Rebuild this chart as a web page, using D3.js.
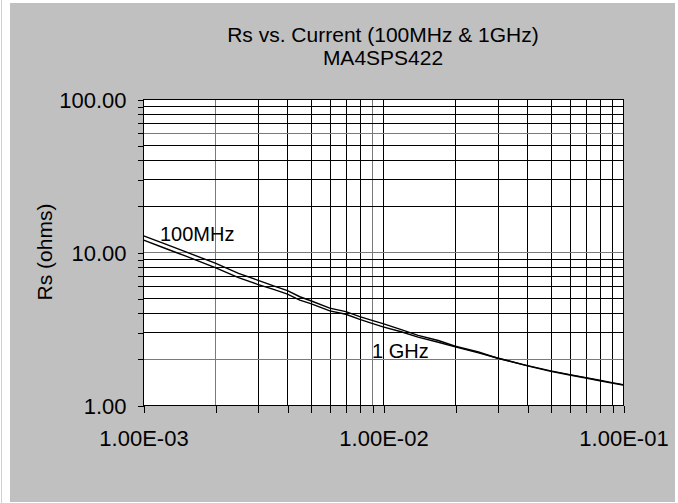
<!DOCTYPE html>
<html>
<head>
<meta charset="utf-8">
<script src="https://cdn.jsdelivr.net/npm/d3@7"></script>
<style>
  body { margin: 0; background: #ffffff; }
  text { font-family: "Liberation Sans", Arial, sans-serif; fill: #000; }
</style>
</head>
<body>
<div id="chart"></div>
<script>
// chart data
let current = [1e-3, 1.25e-3, 1.5e-3, 2e-3, 2.5e-3, 3e-3, 3.5e-3, 4e-3, 4.5e-3, 5e-3,
    6e-3, 7e-3, 8e-3, 9e-3, 1e-2, 1.2e-2, 1.4e-2, 1.7e-2, 2e-2, 2.5e-2,
    3e-2, 4e-2, 5e-2, 6e-2, 7e-2, 8e-2, 9e-2, 1e-1];
let rs100MHz = [12.8, 11.2, 10.05, 8.45, 7.25, 6.55, 6.0, 5.6, 5.1, 4.8,
    4.3, 4.08, 3.78, 3.57, 3.40, 3.10, 2.85, 2.64, 2.42, 2.22,
    2.02, 1.81, 1.67, 1.58, 1.51, 1.45, 1.40, 1.36];
let rs1GHz = [12.0, 10.5, 9.42, 7.9, 6.8, 6.15, 5.7, 5.3, 4.85, 4.6,
    4.12, 3.92, 3.63, 3.42, 3.24, 3.00, 2.78, 2.57, 2.40, 2.19,
    2.03, 1.80, 1.66, 1.57, 1.50, 1.44, 1.39, 1.35];

let xMajor = [1e-3, 1e-2, 1e-1];
let xMajorLabels = ['1.00E-03', '1.00E-02', '1.00E-01'];
let yMajor = [1, 10, 100];
let yMajorLabels = ['1.00', '10.00', '100.00'];

// gridlines at every 1..9 of each decade
let xGrid = [];
[1e-3, 1e-2].forEach(dec => { for (let k = 1; k <= 9; k++) xGrid.push(dec * k); });
xGrid.push(1e-1);
let yGrid = [];
[1, 10].forEach(dec => { for (let k = 1; k <= 9; k++) yGrid.push(dec * k); });
yGrid.push(100);
// these came out lighter in the picture
let xGridLight = [2e-3, 9e-3];
let yGridLight = [2, 10, 60];

let svgWidth = 678;
let svgHeight = 503;

let plot = { left: 143, right: 623, top: 99, bottom: 405 };

let svg = d3.select('#chart')
    .append('svg')
    .attr('width', svgWidth)
    .attr('height', svgHeight);

// grey chart frame
svg.append('line')
    .attr('x1', 1.5).attr('x2', 1.5)
    .attr('y1', 0).attr('y2', svgHeight)
    .attr('stroke', '#d0d0d0');
svg.append('rect')
    .attr('x', 10).attr('y', 3)
    .attr('width', 665).attr('height', 499)
    .attr('fill', '#c0c0c0');

let xScale = d3.scaleLog().domain([1e-3, 1e-1]).range([plot.left, plot.right]);
let yScale = d3.scaleLog().domain([1, 100]).range([plot.bottom, plot.top]);

// plot area
svg.append('rect')
    .attr('x', plot.left).attr('y', plot.top)
    .attr('width', plot.right - plot.left).attr('height', plot.bottom - plot.top)
    .attr('fill', '#ffffff');

let snap = v => Math.round(v) + 0.5;

let grid = svg.append('g').attr('shape-rendering', 'crispEdges');
grid.selectAll('.vgrid')
    .data(xGrid)
    .enter()
    .append('line')
    .attr('x1', d => snap(xScale(d))).attr('x2', d => snap(xScale(d)))
    .attr('y1', plot.top).attr('y2', plot.bottom)
    .attr('stroke', d => xGridLight.some(v => Math.abs(v - d) < 1e-9) ? '#7a7a7a' : '#000')
    .attr('stroke-width', 1);
grid.selectAll('.hgrid')
    .data(yGrid)
    .enter()
    .append('line')
    .attr('y1', d => snap(yScale(d))).attr('y2', d => snap(yScale(d)))
    .attr('x1', plot.left).attr('x2', plot.right)
    .attr('stroke', d => yGridLight.some(v => Math.abs(v - d) < 1e-9) ? '#7a7a7a' : '#000')
    .attr('stroke-width', 1);

// border
svg.append('rect')
    .attr('x', plot.left + 0.5).attr('y', plot.top + 0.5)
    .attr('width', plot.right - plot.left).attr('height', plot.bottom - plot.top)
    .attr('fill', 'none')
    .attr('stroke', '#000')
    .attr('shape-rendering', 'crispEdges');

// axes
let leftAxis = d3.axisLeft(yScale)
    .tickValues(yGrid)
    .tickSize(6)
    .tickPadding(11)
    .tickFormat(d => {
        let i = yMajor.findIndex(v => Math.abs(v - d) < 1e-9);
        return i >= 0 ? yMajorLabels[i] : '';
    });
let yAxisG = svg.append('g')
    .attr('transform', `translate(${plot.left + 0.5}, 0.5)`)
    .call(leftAxis);
yAxisG.select('.domain').remove();
yAxisG.selectAll('line').attr('stroke', '#000').attr('shape-rendering', 'crispEdges');
yAxisG.selectAll('text')
    .attr('dy', '0.36em')
    .style('font-size', '22px')
    .style('font-family', '"Liberation Sans", Arial, sans-serif')
    .attr('fill', '#000');

let bottomAxis = d3.axisBottom(xScale)
    .tickValues(xGrid)
    .tickSize(7)
    .tickFormat(d => {
        let i = xMajor.findIndex(v => Math.abs(v - d) < 1e-12);
        return i >= 0 ? xMajorLabels[i] : '';
    });
let xAxisG = svg.append('g')
    .attr('transform', `translate(0.5, ${plot.bottom + 0.5})`)
    .call(bottomAxis);
xAxisG.select('.domain').remove();
xAxisG.selectAll('line').attr('stroke', '#000').attr('shape-rendering', 'crispEdges');
xAxisG.selectAll('text')
    .attr('y', 40)
    .attr('dy', 0)
    .style('font-size', '22px')
    .style('font-family', '"Liberation Sans", Arial, sans-serif')
    .attr('fill', '#000');

// curves
let line = d3.line()
    .x(d => xScale(d[0]))
    .y(d => yScale(d[1]));

[rs100MHz, rs1GHz].forEach(series => {
    svg.append('path')
        .datum(current.map((c, i) => [c, series[i]]))
        .attr('d', line)
        .attr('fill', 'none')
        .attr('stroke', '#000')
        .attr('stroke-width', 1.4);
});

// series labels
svg.append('text')
    .attr('x', 160).attr('y', 241)
    .style('font-size', '20px')
    .text('100MHz');
svg.append('text')
    .attr('x', 372).attr('y', 358)
    .style('font-size', '20px')
    .text('1 GHz');

// titles
let cx = (plot.left + plot.right) / 2;
svg.append('text')
    .attr('x', cx).attr('y', 42)
    .attr('text-anchor', 'middle')
    .style('font-size', '21px')
    .text('Rs vs. Current (100MHz & 1GHz)');
svg.append('text')
    .attr('x', cx).attr('y', 65)
    .attr('text-anchor', 'middle')
    .style('font-size', '21px')
    .text('MA4SPS422');

svg.append('text')
    .attr('transform', `translate(52, ${(plot.top + plot.bottom) / 2}) rotate(-90)`)
    .attr('text-anchor', 'middle')
    .style('font-size', '21px')
    .text('Rs (ohms)');
</script>
</body>
</html>
